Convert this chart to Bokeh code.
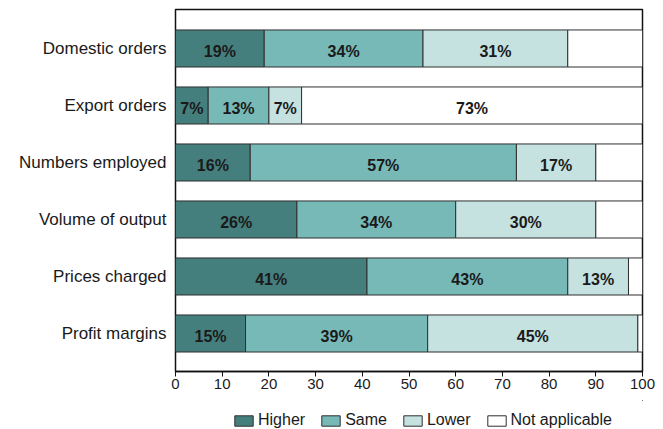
import numpy as np
from bokeh.plotting import figure
from bokeh.layouts import column
from bokeh.models import ColumnDataSource, Range1d, FixedTicker, Legend, LegendItem
from bokeh.core.properties import value
from bokeh.embed import file_html
from bokeh.resources import INLINE

# Survey responses (% of firms), top row first
categories = ["Domestic orders", "Export orders", "Numbers employed",
              "Volume of output", "Prices charged", "Profit margins"]
higher = [19, 7, 16, 26, 41, 15]
same = [34, 13, 57, 34, 43, 39]
lower = [31, 7, 17, 30, 13, 45]
not_applicable = [16, 73, 10, 10, 3, 1]
# which "not applicable" segments carry a printed value
na_labelled = [False, True, False, False, False, False]

series_names = ["Higher", "Same", "Lower", "Not applicable"]
series_colors = ["#457f7d", "#77b9b7", "#c5e2e1", "#ffffff"]
x_ticks = [0, 10, 20, 30, 40, 50, 60, 70, 80, 90, 100]

FONT = "Liberation Sans"
EDGE = "#2e2e2e"

n = len(categories)
ypos = [n - 1 - i for i in range(n)]   # first category on top

p = figure(width=663, height=400, output_backend="svg", toolbar_location=None,
           x_range=Range1d(0, 100), y_range=Range1d(-0.667, 5.684),
           min_border_left=175, min_border_right=21, min_border_top=9,
           min_border_bottom=29)

p.background_fill_color = "white"
p.border_fill_color = "white"
p.outline_line_color = "#111111"
p.outline_line_width = 1.5
p.xgrid.visible = False
p.ygrid.visible = False

values = [higher, same, lower, not_applicable]
lefts = np.zeros(n)
label_x, label_y, label_t = [], [], []
for k, (vals, col) in enumerate(zip(values, series_colors)):
    vals = np.array(vals, dtype=float)
    rights = lefts + vals
    src = ColumnDataSource(dict(y=ypos, left=lefts, right=rights))
    p.hbar(y="y", left="left", right="right", height=0.65, source=src,
           fill_color=col, line_color=EDGE, line_width=1)
    for i in range(n):
        if k < 3 or na_labelled[i]:
            label_x.append(float((lefts[i] + rights[i]) / 2))
            label_y.append(ypos[i])
            label_t.append(f"{int(vals[i])}%")
    lefts = rights

lab_src = ColumnDataSource(dict(x=label_x, y=label_y, t=label_t))
p.text(x="x", y="y", text="t", source=lab_src, text_align="center",
       text_baseline="middle", y_offset=3, text_font=value(FONT),
       text_font_size="16px", text_font_style="bold", text_color="#1a1a1a")

# x axis
p.xaxis.ticker = FixedTicker(ticks=x_ticks)
p.xaxis.minor_tick_line_color = None
p.xaxis.major_tick_in = 0
p.xaxis.major_tick_out = 5
p.xaxis.major_tick_line_color = "#111111"
p.xaxis.axis_line_color = "#111111"
p.xaxis.axis_line_width = 1.5
p.xaxis.major_label_text_font = FONT
p.xaxis.major_label_text_font_size = "15px"
p.xaxis.major_label_text_color = "#1a1a1a"
p.xaxis.major_label_standoff = 2

# y axis: category names, no tick marks
p.yaxis.ticker = FixedTicker(ticks=ypos)
p.yaxis.major_label_overrides = {y: c for y, c in zip(ypos, categories)}
p.yaxis.major_tick_line_color = None
p.yaxis.minor_tick_line_color = None
p.yaxis.axis_line_color = None
p.yaxis.major_label_text_font = FONT
p.yaxis.major_label_text_font_size = "17px"
p.yaxis.major_label_text_color = "#1a1a1a"
p.yaxis.major_label_standoff = 3

# legend strip underneath the chart (its swatch glyphs sit outside the view)
leg = figure(width=663, height=29, output_backend="svg", toolbar_location=None,
             x_range=Range1d(0, 1), y_range=Range1d(0, 1),
             min_border=0, outline_line_color=None)
leg.axis.visible = False
leg.grid.visible = False
leg_renderers = []
for nm, col in zip(series_names, series_colors):
    r = leg.hbar(y=[5], left=[5], right=[6], height=0.5,
                 fill_color=col, line_color=EDGE, line_width=1)
    leg_renderers.append(r)

legend = Legend(items=[LegendItem(label=nm, renderers=[r])
                       for nm, r in zip(series_names, leg_renderers)],
                orientation="horizontal", location=(57, 0),
                glyph_width=23, glyph_height=13, label_standoff=3, spacing=14,
                label_height=16, label_text_font=FONT, label_text_font_size="16px",
                label_text_color="#1a1a1a", border_line_color=None,
                background_fill_alpha=0, padding=2, margin=0)
leg.add_layout(legend, "center")

layout = column(p, leg, spacing=0)
open("out.html", "w").write(file_html(layout, INLINE))
